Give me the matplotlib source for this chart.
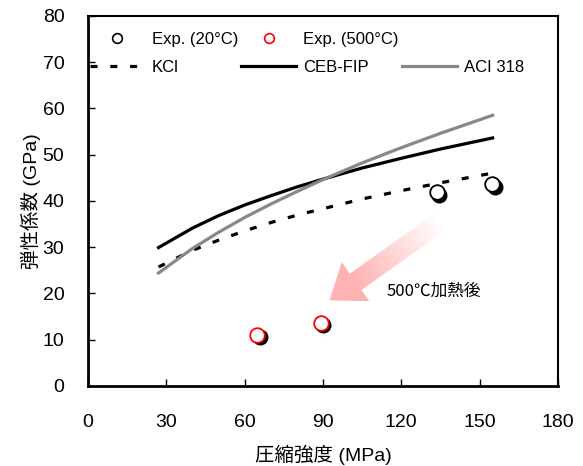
import numpy as np
import matplotlib
matplotlib.use("Agg")
import matplotlib.pyplot as plt
import matplotlib.transforms as mtransforms
from matplotlib.patches import Polygon
from matplotlib.lines import Line2D

plt.rcParams['font.family'] = ['Liberation Sans', 'Noto Sans CJK JP']

# compressive strength (MPa) for the model curves
fc = [27, 40, 50, 60, 70, 80, 90, 105, 120, 135, 155]
E_kci = [25.7, 29.3, 31.5, 33.5, 35.3, 36.9, 38.3, 40.4, 42.2, 43.9, 46.0]
E_ceb = [29.9, 34.1, 36.8, 39.1, 41.1, 43.0, 44.7, 47.1, 49.2, 51.2, 53.6]
E_aci = [24.4, 29.7, 33.2, 36.4, 39.3, 42.0, 44.6, 48.2, 51.5, 54.6, 58.5]

# test results
fc_20 = [133.5, 154.8]
E_20 = [41.9, 43.6]
fc_500 = [64.8, 89.2]
E_500 = [11.0, 13.6]

fig = plt.figure(figsize=(5.83, 4.66), dpi=100)
ax = fig.add_axes([0.151, 0.172, 0.806, 0.794])
ax.set_xlim(0, 180)
ax.set_ylim(0, 80)

l_kci, = ax.plot(fc, E_kci, color='k', lw=2.3, ls=(0, (2.2, 4.0)), label='KCl')
l_ceb, = ax.plot(fc, E_ceb, color='k', lw=2.3, label='CEB-FIP')
l_aci, = ax.plot(fc, E_aci, color='#888888', lw=2.3, label='ACI 318')

# black drop shadows behind the test points
shadow = mtransforms.offset_copy(ax.transData, fig=fig, x=2.5, y=-2.5, units='dots')
ax.plot(fc_20 + fc_500, E_20 + E_500, 'o', ms=10.5, mfc='k', mec='k',
        transform=shadow, zorder=4)
p20, = ax.plot(fc_20, E_20, 'o', ms=10.5, mfc='white', mec='k', mew=1.3,
               zorder=5, label='Exp. (20°C)')
p500, = ax.plot(fc_500, E_500, 'o', ms=10.5, mfc='white', mec='red', mew=1.3,
                zorder=5, label='Exp. (500°C)')

# legend markers without shadow, smaller
h20 = Line2D([], [], marker='o', ls='none', ms=7, mfc='white', mec='k', mew=1.2)
h500 = Line2D([], [], marker='o', ls='none', ms=7, mfc='white', mec='red', mew=1.2)
blank = Line2D([], [], ls='none')
ax.legend([h20, l_kci, h500, l_ceb, blank, l_aci],
          ['Exp. (20°C)', 'KCl', 'Exp. (500°C)', 'CEB-FIP', '', 'ACI 318'],
          ncol=3, loc='upper left', bbox_to_anchor=(0.0, 0.962), frameon=False,
          fontsize=12, handlelength=3.3, handletextpad=0.42, columnspacing=0.2,
          labelspacing=0.78, borderpad=0.1, borderaxespad=0.0)

# gradient arrow (pale at tail, pink at head)
fig.canvas.draw()
tail = ax.transData.transform((135.0, 35.5))
tip = ax.transData.transform((92.5, 18.5))
d = tip - tail
L = np.hypot(*d)
u = d / L
n = np.array([-u[1], u[0]])
sw, hw, hl = 10.0, 24.0, 32.0
base = tip - u * hl
pts = np.array([tail + n * sw, base + n * sw, base + n * hw, tip,
                base - n * hw, base - n * sw, tail - n * sw])
pts_data = ax.transData.inverted().transform(pts)
arrow = Polygon(pts_data, closed=True, facecolor='none', edgecolor='none')
ax.add_patch(arrow)

x0, y0 = pts_data.min(axis=0)
x1, y1 = pts_data.max(axis=0)
nx, ny = 200, 200
gx, gy = np.meshgrid(np.linspace(x0, x1, nx), np.linspace(y0, y1, ny))
disp = ax.transData.transform(np.column_stack([gx.ravel(), gy.ravel()]))
t = ((disp - tail) @ u / L).reshape(ny, nx)
t = np.clip(t, 0, 1)
img = np.zeros((ny, nx, 4))
pink = np.array([1.0, 0.70, 0.70])
img[..., :3] = 1 - (1 - pink) * np.clip(t * 1.3, 0, 1)[..., None]
img[..., 3] = 1.0
im = ax.imshow(img, extent=(x0, x1, y0, y1), origin='lower', aspect='auto',
               zorder=1, interpolation='bilinear')
im.set_clip_path(arrow)
ax.set_xlim(0, 180)
ax.set_ylim(0, 80)

ax.text(114.5, 20.5, '500℃加熱後', fontsize=12, ha='left', va='center',
        family=['Noto Sans CJK JP'])

ax.set_xticks(np.arange(0, 181, 30))
ax.set_yticks(np.arange(0, 81, 10))
ax.tick_params(direction='in', length=5, width=1, labelsize=14)
ax.tick_params(axis='x', pad=20)
ax.tick_params(axis='y', pad=17)
for s in ax.spines.values():
    s.set_linewidth(1.5)
ax.spines['left'].set_linewidth(2)
ax.spines['bottom'].set_linewidth(2)

ax.set_xlabel('圧縮強度 (MPa)', fontsize=14, labelpad=10)
ax.set_ylabel('弾性係数 (GPa)', fontsize=14, labelpad=1)

fig.savefig('out.png', dpi=100)
